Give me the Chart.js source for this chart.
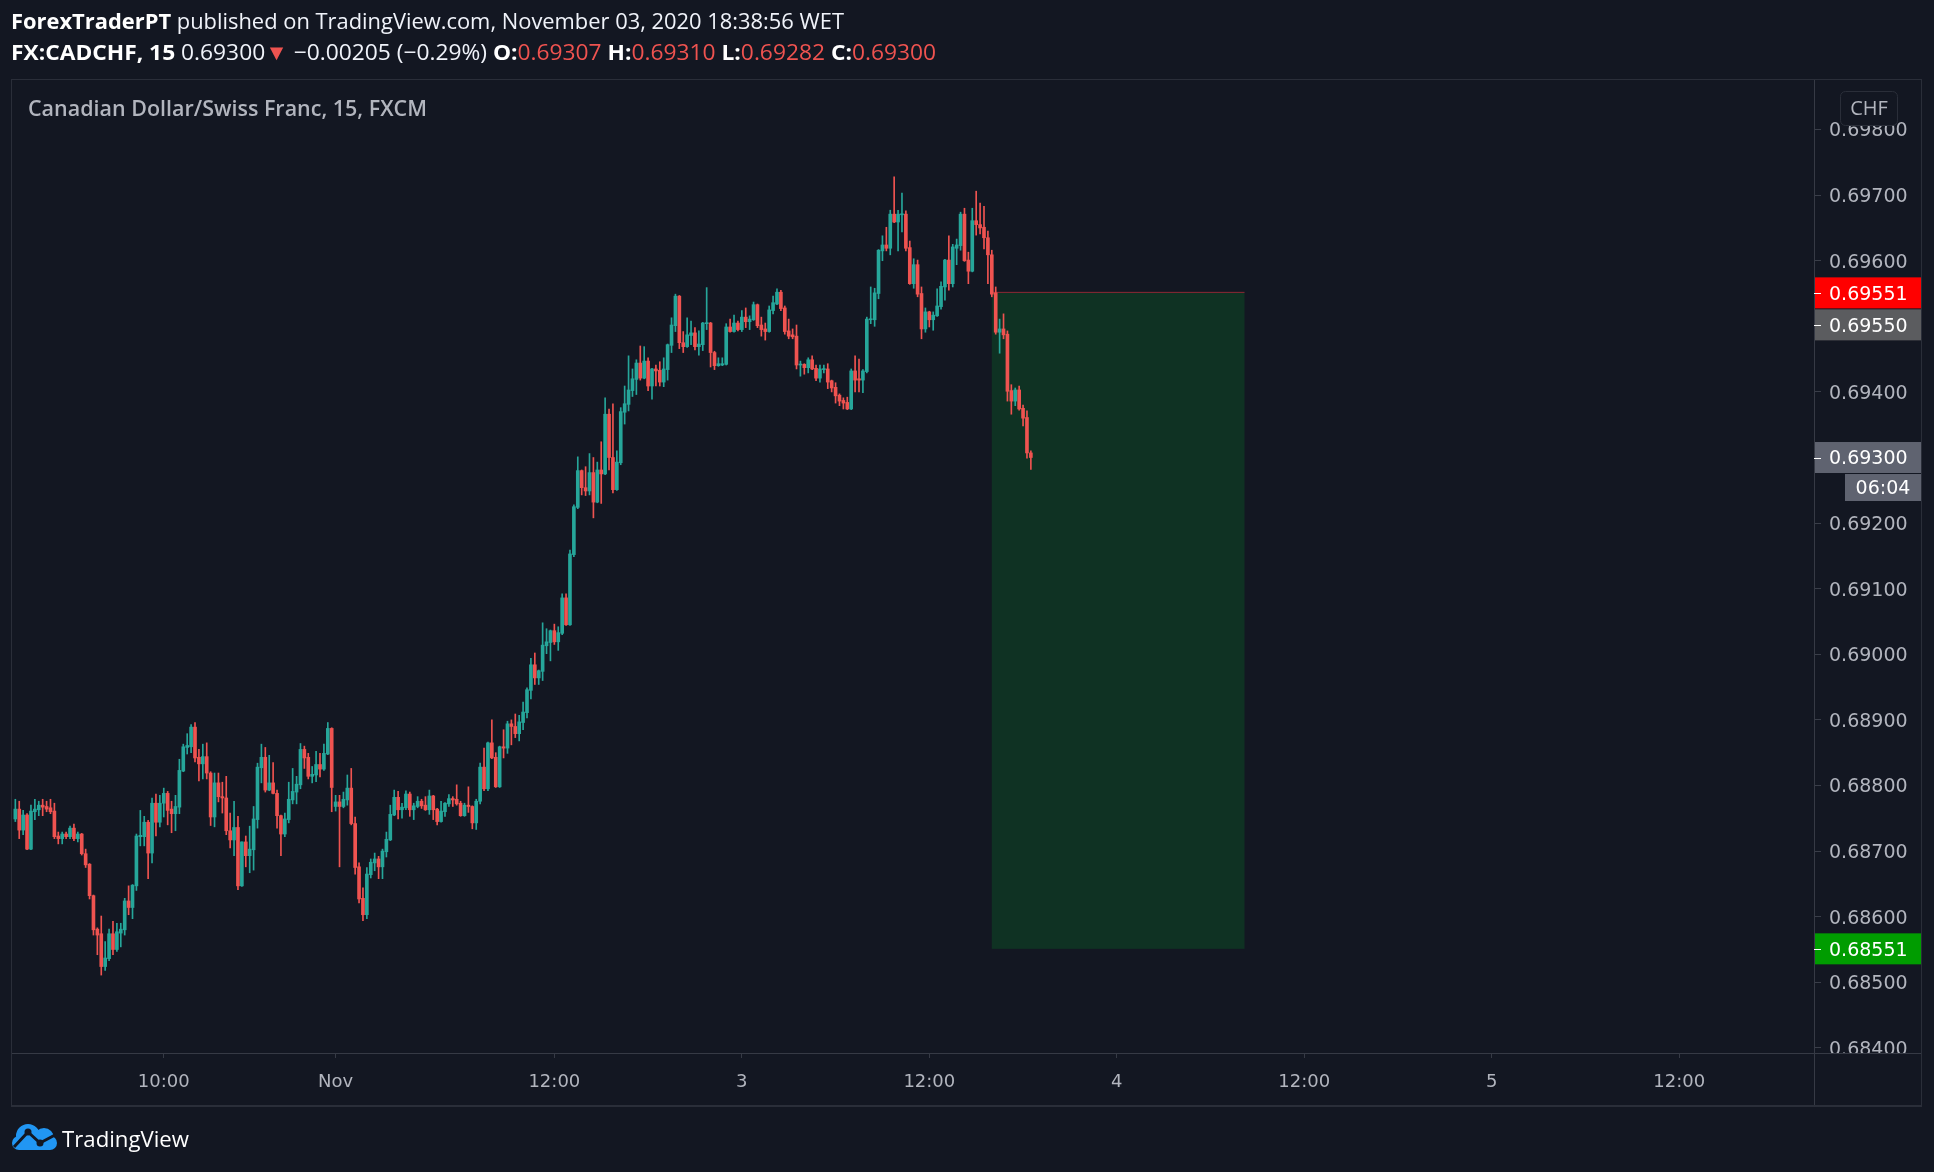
<!DOCTYPE html>
<html>
<head>
<meta charset="utf-8">
<title>CADCHF 15</title>
<script src="https://cdn.jsdelivr.net/npm/chart.js@4.4.1/dist/chart.umd.min.js"></script>
<style>
  html, body { margin: 0; padding: 0; background: #131722; }
  #wrap { width: 1934px; height: 1172px; }
</style>
</head>
<body>
<div id="wrap"><canvas id="cadchf" width="1934" height="1172"></canvas></div>
<script>
// FX:CADCHF 15m candles (oldest first)
var opens = [
  0.68749,0.68764,0.68732,0.68755,0.68703,0.68760,0.68763,0.68770,0.68768,0.68766,
  0.68761,0.68723,0.68719,0.68726,0.68722,0.68735,0.68719,0.68726,0.68696,0.68680,
  0.68632,0.68581,0.68574,0.68524,0.68536,0.68574,0.68550,0.68575,0.68580,0.68624,
  0.68614,0.68647,0.68722,0.68722,0.68744,0.68697,0.68773,0.68744,0.68773,0.68788,
  0.68764,0.68757,0.68767,0.68822,0.68858,0.68859,0.68889,0.68843,0.68833,0.68844,
  0.68819,0.68752,0.68804,0.68783,0.68781,0.68731,0.68717,0.68736,0.68647,0.68714,
  0.68693,0.68702,0.68748,0.68827,0.68843,0.68793,0.68804,0.68788,0.68754,0.68726,
  0.68748,0.68778,0.68790,0.68801,0.68855,0.68843,0.68814,0.68816,0.68832,0.68825,
  0.68848,0.68887,0.68768,0.68775,0.68768,0.68778,0.68796,0.68742,0.68676,0.68628,
  0.68603,0.68664,0.68682,0.68688,0.68676,0.68699,0.68717,0.68755,0.68782,0.68763,
  0.68766,0.68787,0.68763,0.68768,0.68776,0.68770,0.68763,0.68784,0.68764,0.68745,
  0.68760,0.68772,0.68780,0.68779,0.68773,0.68754,0.68770,0.68768,0.68743,0.68776,
  0.68828,0.68795,0.68865,0.68843,0.68798,0.68859,0.68857,0.68894,0.68890,0.68879,
  0.68896,0.68911,0.68945,0.68984,0.68964,0.68974,0.69013,0.69018,0.69036,0.69019,
  0.69032,0.69086,0.69045,0.69152,0.69224,0.69280,0.69254,0.69249,0.69277,0.69232,
  0.69281,0.69275,0.69366,0.69300,0.69251,0.69292,0.69369,0.69381,0.69402,0.69419,
  0.69444,0.69421,0.69447,0.69409,0.69435,0.69433,0.69415,0.69434,0.69471,0.69501,
  0.69546,0.69475,0.69469,0.69486,0.69490,0.69469,0.69472,0.69504,0.69505,0.69460,
  0.69440,0.69441,0.69442,0.69499,0.69492,0.69505,0.69495,0.69514,0.69507,0.69510,
  0.69533,0.69502,0.69496,0.69492,0.69524,0.69534,0.69552,0.69528,0.69493,0.69487,
  0.69485,0.69441,0.69442,0.69437,0.69449,0.69436,0.69421,0.69434,0.69435,0.69417,
  0.69407,0.69395,0.69387,0.69384,0.69374,0.69432,0.69420,0.69418,0.69431,0.69510,
  0.69510,0.69550,0.69615,0.69624,0.69619,0.69671,0.69659,0.69670,0.69671,0.69620,
  0.69565,0.69594,0.69550,0.69496,0.69522,0.69510,0.69516,0.69530,0.69560,0.69601,
  0.69565,0.69619,0.69623,0.69671,0.69601,0.69584,0.69661,0.69655,0.69651,0.69635,
  0.69609,0.69551,0.69491,0.69496,0.69488,0.69402,0.69386,0.69403,0.69375,0.69361,
  0.69307
];
var highs = [
  0.68779,0.68776,0.68762,0.68757,0.68770,0.68779,0.68776,0.68779,0.68776,0.68779,
  0.68773,0.68729,0.68729,0.68729,0.68738,0.68741,0.68729,0.68727,0.68703,0.68681,
  0.68633,0.68583,0.68601,0.68562,0.68581,0.68593,0.68590,0.68590,0.68628,0.68647,
  0.68649,0.68726,0.68762,0.68753,0.68747,0.68781,0.68787,0.68785,0.68796,0.68791,
  0.68776,0.68785,0.68840,0.68863,0.68879,0.68893,0.68896,0.68855,0.68863,0.68865,
  0.68821,0.68819,0.68819,0.68805,0.68814,0.68758,0.68776,0.68753,0.68714,0.68723,
  0.68738,0.68768,0.68834,0.68863,0.68858,0.68846,0.68835,0.68793,0.68755,0.68758,
  0.68805,0.68826,0.68814,0.68864,0.68860,0.68849,0.68829,0.68852,0.68849,0.68863,
  0.68896,0.68888,0.68785,0.68785,0.68790,0.68816,0.68826,0.68752,0.68682,0.68644,
  0.68675,0.68688,0.68697,0.68692,0.68703,0.68729,0.68770,0.68793,0.68791,0.68773,
  0.68792,0.68790,0.68773,0.68783,0.68779,0.68783,0.68793,0.68785,0.68765,0.68776,
  0.68774,0.68786,0.68783,0.68801,0.68776,0.68773,0.68798,0.68769,0.68779,0.68834,
  0.68857,0.68866,0.68900,0.68850,0.68860,0.68885,0.68898,0.68900,0.68909,0.68907,
  0.68927,0.68949,0.68994,0.69002,0.68976,0.69048,0.69039,0.69037,0.69046,0.69042,
  0.69092,0.69092,0.69159,0.69228,0.69301,0.69281,0.69286,0.69306,0.69300,0.69293,
  0.69324,0.69391,0.69374,0.69382,0.69310,0.69376,0.69409,0.69455,0.69435,0.69449,
  0.69470,0.69469,0.69452,0.69436,0.69441,0.69446,0.69452,0.69473,0.69513,0.69549,
  0.69547,0.69492,0.69513,0.69508,0.69498,0.69493,0.69506,0.69559,0.69506,0.69462,
  0.69452,0.69452,0.69504,0.69511,0.69517,0.69508,0.69524,0.69528,0.69516,0.69537,
  0.69534,0.69514,0.69505,0.69531,0.69546,0.69557,0.69555,0.69531,0.69511,0.69496,
  0.69502,0.69447,0.69443,0.69452,0.69455,0.69441,0.69441,0.69441,0.69443,0.69418,
  0.69414,0.69397,0.69391,0.69392,0.69435,0.69455,0.69450,0.69434,0.69514,0.69560,
  0.69558,0.69617,0.69638,0.69651,0.69677,0.69728,0.69677,0.69703,0.69676,0.69630,
  0.69603,0.69601,0.69560,0.69528,0.69523,0.69522,0.69557,0.69568,0.69602,0.69638,
  0.69625,0.69633,0.69674,0.69680,0.69613,0.69680,0.69706,0.69688,0.69683,0.69645,
  0.69616,0.69560,0.69511,0.69519,0.69493,0.69411,0.69406,0.69409,0.69380,0.69371,
  0.69310
];
var lows = [
  0.68745,0.68719,0.68725,0.68702,0.68702,0.68748,0.68754,0.68754,0.68760,0.68757,
  0.68719,0.68711,0.68711,0.68719,0.68719,0.68716,0.68714,0.68694,0.68675,0.68627,
  0.68572,0.68542,0.68511,0.68518,0.68533,0.68542,0.68547,0.68554,0.68572,0.68603,
  0.68597,0.68640,0.68708,0.68708,0.68658,0.68682,0.68723,0.68737,0.68752,0.68740,
  0.68728,0.68731,0.68757,0.68821,0.68848,0.68850,0.68836,0.68807,0.68810,0.68810,
  0.68739,0.68737,0.68775,0.68758,0.68725,0.68705,0.68693,0.68641,0.68646,0.68676,
  0.68667,0.68671,0.68735,0.68804,0.68790,0.68792,0.68787,0.68735,0.68693,0.68722,
  0.68743,0.68772,0.68772,0.68795,0.68826,0.68810,0.68804,0.68806,0.68813,0.68823,
  0.68847,0.68760,0.68761,0.68676,0.68766,0.68770,0.68740,0.68665,0.68621,0.68594,
  0.68597,0.68659,0.68670,0.68658,0.68658,0.68691,0.68716,0.68754,0.68749,0.68750,
  0.68763,0.68753,0.68748,0.68766,0.68765,0.68762,0.68756,0.68748,0.68740,0.68744,
  0.68753,0.68768,0.68768,0.68770,0.68753,0.68753,0.68759,0.68734,0.68733,0.68772,
  0.68792,0.68792,0.68841,0.68797,0.68797,0.68842,0.68849,0.68862,0.68873,0.68868,
  0.68885,0.68903,0.68932,0.68954,0.68954,0.68960,0.69001,0.68990,0.69015,0.69006,
  0.69030,0.69044,0.69044,0.69149,0.69222,0.69243,0.69242,0.69243,0.69208,0.69231,
  0.69230,0.69274,0.69281,0.69246,0.69250,0.69289,0.69351,0.69371,0.69393,0.69396,
  0.69418,0.69420,0.69402,0.69389,0.69409,0.69409,0.69408,0.69418,0.69460,0.69492,
  0.69466,0.69460,0.69468,0.69472,0.69464,0.69456,0.69463,0.69495,0.69438,0.69434,
  0.69439,0.69440,0.69441,0.69491,0.69491,0.69493,0.69492,0.69498,0.69495,0.69509,
  0.69498,0.69485,0.69479,0.69491,0.69519,0.69533,0.69524,0.69488,0.69481,0.69481,
  0.69435,0.69424,0.69427,0.69429,0.69434,0.69417,0.69415,0.69429,0.69405,0.69400,
  0.69383,0.69379,0.69374,0.69373,0.69373,0.69400,0.69400,0.69399,0.69429,0.69504,
  0.69500,0.69542,0.69600,0.69615,0.69609,0.69658,0.69615,0.69644,0.69615,0.69564,
  0.69558,0.69545,0.69481,0.69491,0.69499,0.69494,0.69515,0.69526,0.69540,0.69555,
  0.69560,0.69594,0.69616,0.69599,0.69565,0.69583,0.69639,0.69641,0.69618,0.69565,
  0.69545,0.69488,0.69459,0.69481,0.69386,0.69366,0.69379,0.69372,0.69348,0.69299,
  0.69282
];
var closes = [
  0.68764,0.68732,0.68755,0.68703,0.68761,0.68764,0.68770,0.68767,0.68764,0.68760,
  0.68722,0.68719,0.68726,0.68722,0.68735,0.68719,0.68726,0.68696,0.68679,0.68632,
  0.68580,0.68572,0.68524,0.68537,0.68574,0.68550,0.68577,0.68581,0.68624,0.68614,
  0.68648,0.68723,0.68724,0.68744,0.68697,0.68773,0.68744,0.68773,0.68788,0.68762,
  0.68757,0.68768,0.68823,0.68859,0.68861,0.68889,0.68842,0.68833,0.68844,0.68819,
  0.68752,0.68804,0.68783,0.68781,0.68731,0.68717,0.68736,0.68647,0.68714,0.68693,
  0.68703,0.68749,0.68828,0.68843,0.68793,0.68804,0.68788,0.68754,0.68726,0.68749,
  0.68779,0.68791,0.68802,0.68855,0.68842,0.68814,0.68817,0.68832,0.68825,0.68849,
  0.68887,0.68797,0.68775,0.68768,0.68779,0.68796,0.68742,0.68675,0.68627,0.68603,
  0.68665,0.68683,0.68688,0.68676,0.68700,0.68718,0.68756,0.68782,0.68763,0.68767,
  0.68787,0.68763,0.68769,0.68776,0.68769,0.68763,0.68784,0.68763,0.68745,0.68761,
  0.68773,0.68780,0.68778,0.68772,0.68754,0.68770,0.68768,0.68743,0.68776,0.68828,
  0.68795,0.68865,0.68842,0.68798,0.68859,0.68857,0.68894,0.68890,0.68879,0.68897,
  0.68912,0.68946,0.68984,0.68964,0.68975,0.69014,0.69019,0.69036,0.69019,0.69033,
  0.69086,0.69045,0.69153,0.69225,0.69280,0.69254,0.69249,0.69277,0.69232,0.69281,
  0.69275,0.69366,0.69300,0.69251,0.69293,0.69370,0.69382,0.69403,0.69420,0.69444,
  0.69421,0.69447,0.69409,0.69435,0.69432,0.69415,0.69435,0.69472,0.69502,0.69546,
  0.69475,0.69469,0.69487,0.69490,0.69469,0.69473,0.69505,0.69505,0.69460,0.69440,
  0.69443,0.69443,0.69499,0.69492,0.69505,0.69495,0.69514,0.69507,0.69511,0.69533,
  0.69501,0.69495,0.69492,0.69525,0.69536,0.69552,0.69527,0.69492,0.69485,0.69484,
  0.69441,0.69442,0.69437,0.69449,0.69435,0.69421,0.69435,0.69435,0.69415,0.69406,
  0.69394,0.69386,0.69383,0.69374,0.69432,0.69418,0.69418,0.69432,0.69511,0.69511,
  0.69551,0.69616,0.69624,0.69619,0.69671,0.69659,0.69671,0.69671,0.69619,0.69565,
  0.69594,0.69549,0.69496,0.69522,0.69510,0.69517,0.69531,0.69561,0.69601,0.69565,
  0.69621,0.69624,0.69671,0.69600,0.69584,0.69661,0.69655,0.69650,0.69635,0.69609,
  0.69549,0.69491,0.69496,0.69487,0.69401,0.69386,0.69403,0.69374,0.69360,0.69307,
  0.69300
];

// time axis: candle index -> label
var timeTickPos = [38, 82, 138, 186, 234, 282, 330, 378, 426];
var timeTickText = ["10:00", "Nov", "12:00", "3", "12:00", "4", "12:00", "5", "12:00"];

// price axis
var priceTicks = [0.684, 0.685, 0.686, 0.687, 0.688, 0.689, 0.690, 0.691, 0.692, 0.693, 0.694, 0.695, 0.696, 0.697, 0.698];
var priceMin = 0.683922;
var priceMax = 0.698755;

// long position tool (candle index range, price range)
var posStart = 250;
var posEnd = 314.7;
var posEntry = 0.69551;
var posTarget = 0.68551;
var markerPrice = 0.69550;
var lastPrice = 0.69300;
var countdown = "06:04";

var upColor = "#26a69a";
var downColor = "#ef5350";
var bg = "#131722";
var lineCol = "#2a2e39";
var textCol = "#b2b5be";

var idx = opens.map(function (_, i) { return i; });
var candleColors = idx.map(function (i) { return closes[i] >= opens[i] ? upColor : downColor; });

function drawRuns(c, runs, x, y, width, size) {
  c.save();
  var total = 0;
  runs.forEach(function (r) {
    c.font = (r.b ? "bold " : "") + size + 'px "Open Sans"';
    r.w = c.measureText(r.t).width;
    total += r.w;
  });
  c.translate(x, y);
  c.scale(width / total, 1);
  c.textBaseline = "alphabetic";
  var cx = 0;
  runs.forEach(function (r) {
    c.font = (r.b ? "bold " : "") + size + 'px "Open Sans"';
    c.fillStyle = r.c;
    c.fillText(r.t, cx, 0);
    cx += r.w;
  });
  c.restore();
}

function axisBox(c, y0, h, x0, x1, fill, text, tick) {
  c.fillStyle = fill;
  c.fillRect(x0, y0, x1 - x0, h);
  c.fillStyle = "#ffffff";
  c.font = '19px "DejaVu Sans"';
  c.textBaseline = "middle";
  c.textAlign = tick ? "left" : "center";
  c.fillText(text, tick ? 1829 : (x0 + x1) / 2, y0 + h / 2 + 2);
  if (tick) {
    c.fillRect(1814, Math.round(y0 + h / 2), 7, 1);
  }
}

var positionPlugin = {
  id: "positionBox",
  beforeDraw: function (chart) {
    var c = chart.ctx;
    c.save();
    c.fillStyle = bg;
    c.fillRect(0, 0, chart.width, chart.height);
    c.restore();
  },
  beforeDatasetsDraw: function (chart) {
    var c = chart.ctx, xs = chart.scales.x, ys = chart.scales.y;
    var x0 = xs.getPixelForValue(posStart), x1 = xs.getPixelForValue(posEnd);
    var y0 = ys.getPixelForValue(posEntry), y1 = ys.getPixelForValue(posTarget);
    c.save();
    c.fillStyle = "rgba(0, 160, 40, 0.2)";
    c.fillRect(x0, y0, x1 - x0, y1 - y0);
    c.fillStyle = "rgba(242, 54, 69, 0.55)";
    c.fillRect(x0, y0 - 1, x1 - x0, 1);
    c.restore();
  },
  afterDraw: function (chart) {
    var c = chart.ctx, ys = chart.scales.y;
    c.save();
    // cut the price labels at the time axis
    c.fillStyle = bg;
    c.fillRect(1815, 1054, 106, 51);

    // panel borders
    c.fillStyle = lineCol;
    c.fillRect(11, 79, 1911, 1);
    c.fillRect(11, 79, 1, 1027);
    c.fillRect(1921, 79, 1, 1027);
    c.fillRect(11, 1105, 1911, 2);
    c.fillStyle = "#363a45";
    c.fillRect(1814, 80, 1, 1025);
    c.fillRect(12, 1053, 1909, 1);

    // price boxes
    var bh = 31;
    var yEntry = ys.getPixelForValue(posEntry);
    axisBox(c, yEntry - bh / 2, bh, 1815, 1921, "#ff0000", posEntry.toFixed(5), true);
    axisBox(c, yEntry + bh / 2 + 1, bh, 1815, 1921, "#5b5c5f", markerPrice.toFixed(5), true);
    var yLast = ys.getPixelForValue(lastPrice);
    axisBox(c, yLast - bh / 2, bh, 1815, 1921, "#5f6370", lastPrice.toFixed(5), true);
    axisBox(c, yLast + bh / 2 + 1, 27, 1845, 1921, "#5f6370", countdown, false);
    var yTarget = ys.getPixelForValue(posTarget);
    axisBox(c, yTarget - bh / 2, bh, 1815, 1921, "#009c00", posTarget.toFixed(5), true);

    // currency badge
    c.fillStyle = bg;
    c.strokeStyle = "#2a2e39";
    c.lineWidth = 1;
    c.beginPath();
    c.roundRect(1840.5, 91.5, 57, 34, 5);
    c.fill();
    c.stroke();
    c.fillStyle = textCol;
    c.font = '20px "Open Sans"';
    c.textAlign = "center";
    c.textBaseline = "middle";
    c.fillText("CHF", 1869, 109);

    // header
    c.textAlign = "left";
    drawRuns(c, [
      { t: "ForexTraderPT", b: true, c: "#ffffff" },
      { t: " published on TradingView.com, November 03, 2020 18:38:56 WET", c: "#f0f3fa" }
    ], 11, 29, 833, 22);
    drawRuns(c, [
      { t: "FX:CADCHF, 15", b: true, c: "#ffffff" },
      { t: " 0.69300", c: "#f0f3fa" },
      { t: "\u25BC", c: downColor },
      { t: " \u22120.00205 (\u22120.29%) ", c: "#f0f3fa" },
      { t: "O:", b: true, c: "#ffffff" }, { t: "0.69307 ", c: downColor },
      { t: "H:", b: true, c: "#ffffff" }, { t: "0.69310 ", c: downColor },
      { t: "L:", b: true, c: "#ffffff" }, { t: "0.69282 ", c: downColor },
      { t: "C:", b: true, c: "#ffffff" }, { t: "0.69300", c: downColor }
    ], 11, 60, 925, 22);

    // series title
    c.font = '600 21px "Open Sans"';
    var tw = c.measureText("Canadian Dollar/Swiss Franc, 15, FXCM").width;
    c.save();
    c.translate(28, 116);
    c.scale(399 / tw, 1);
    c.fillStyle = textCol;
    c.textBaseline = "alphabetic";
    c.fillText("Canadian Dollar/Swiss Franc, 15, FXCM", 0, 0);
    c.restore();

    // TradingView logo
    c.fillStyle = "#2196f3";
    c.beginPath();
    c.arc(28, 1136, 12, 0, Math.PI * 2);
    c.arc(44, 1138, 10, 0, Math.PI * 2);
    c.fill();
    c.beginPath();
    c.roundRect(12, 1136, 45, 14, 7);
    c.fill();
    c.strokeStyle = bg;
    c.lineWidth = 3;
    c.lineJoin = "round";
    c.beginPath();
    c.moveTo(14, 1147);
    c.lineTo(28, 1132);
    c.lineTo(40, 1143);
    c.lineTo(55, 1135);
    c.stroke();
    c.fillStyle = bg;
    [[28, 1132], [40, 1143]].forEach(function (p) {
      c.beginPath();
      c.arc(p[0], p[1], 3.5, 0, Math.PI * 2);
      c.fill();
    });
    c.font = '21px "Open Sans"';
    var lw = c.measureText("TradingView").width;
    c.save();
    c.translate(62, 1141);
    c.scale(127 / lw, 1);
    c.fillStyle = "#ffffff";
    c.fillText("TradingView", 0, 0);
    c.restore();
    c.restore();
  }
};

var ctx = document.getElementById("cadchf").getContext("2d");
var chart = new Chart(ctx, {
  type: "bar",
  data: {
    datasets: [
      {
        label: "wick",
        data: idx.map(function (i) { return { x: i, y: [lows[i], highs[i]] }; }),
        backgroundColor: candleColors,
        borderWidth: 0,
        barThickness: 1,
        grouped: false,
        order: 2,
      },
      {
        label: "body",
        data: idx.map(function (i) { return { x: i, y: [opens[i], closes[i]] }; }),
        backgroundColor: candleColors,
        borderWidth: 0,
        barThickness: 3,
        minBarLength: 1,
        grouped: false,
        order: 1,
      },
    ],
  },
  options: {
    responsive: false,
    animation: false,
    events: [],
    layout: { padding: { left: 12, top: 80, right: 12, bottom: 66 } },
    plugins: { legend: { display: false }, tooltip: { enabled: false } },
    scales: {
      x: {
        type: "linear",
        min: -0.853,
        max: 460.5,
        offset: false,
        afterFit: function (s) { s.height = 53; },
        afterBuildTicks: function (s) {
          s.ticks = timeTickPos.map(function (v) { return { value: v }; });
        },
        ticks: {
          autoSkip: false,
          maxRotation: 0,
          padding: 14,
          color: textCol,
          font: { family: "DejaVu Sans", size: 18 },
          callback: function (v, i) { return timeTickText[i]; },
        },
        grid: { offset: false, drawOnChartArea: false, drawTicks: true, tickLength: 5, color: "#363a45" },
        border: { display: false },
      },
      y: {
        position: "right",
        min: priceMin,
        max: priceMax,
        afterFit: function (s) { s.width = 108; },
        afterBuildTicks: function (s) {
          s.ticks = priceTicks.map(function (v) { return { value: v }; });
        },
        ticks: {
          padding: 8,
          labelOffset: 2,
          color: textCol,
          font: { family: "DejaVu Sans", size: 19 },
          callback: function (v) { return v.toFixed(5); },
        },
        grid: { drawOnChartArea: false, drawTicks: true, tickLength: 7, color: "#3a3e49" },
        border: { display: false },
      },
    },
  },
  plugins: [positionPlugin],
});
</script>
</body>
</html>
